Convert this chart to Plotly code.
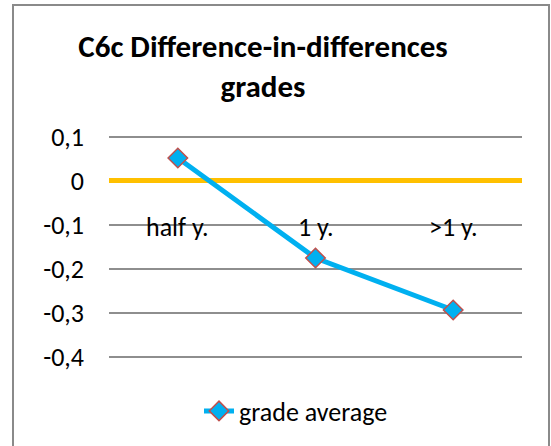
import plotly.graph_objects as go

categories = ["half y.", "1 y.", ">1 y."]
grade_average = [0.052, -0.175, -0.293]
y_tick_values = [-0.4, -0.3, -0.2, -0.1, 0, 0.1]
y_tick_labels = ["-0,4", "-0,3", "-0,2", "-0,1", "0", "0,1"]
series_name = "grade average"
title_text = "<b>C6c Difference-in-differences<br>grades</b>"

FONT = "Carlito, Lato, sans-serif"
W, H = 551, 446
L, R, T, B = 109, 29, 128, 80
pw, ph = W - L - R, H - T - B

def px_x(p):
    return (p - L) / pw

def px_y(p):
    return (H - B - p) / ph

fig = go.Figure()
fig.add_trace(go.Scatter(
    x=categories, y=grade_average, name=series_name,
    mode="lines+markers",
    line=dict(color="#00B0F0", width=5),
    marker=dict(symbol="diamond", size=15, color="#00B0F0",
                line=dict(color="#C0504D", width=1.5)),
))

for c in categories:
    fig.add_annotation(x=c, y=-0.1, xref="x", yref="y", text=c,
                       showarrow=False, yshift=-2,
                       font=dict(family=FONT, size=26, color="#000000"))

fig.add_shape(type="rect", xref="paper", yref="paper",
              x0=px_x(13), x1=px_x(549), y0=px_y(452), y1=px_y(5),
              line=dict(color="#8a8a8a", width=2), fillcolor="rgba(0,0,0,0)",
              layer="below")

fig.update_layout(
    width=W, height=H,
    margin=dict(l=L, r=R, t=T, b=B),
    paper_bgcolor="white", plot_bgcolor="white",
    title=dict(text=title_text, x=263 / W, xanchor="center", xref="container",
               y=1 - 57 / H, yanchor="middle",
               font=dict(family=FONT, size=31, color="#000000")),
    showlegend=True,
    legend=dict(orientation="h", x=px_x(296), xanchor="center", xref="paper",
                y=px_y(411), yanchor="middle",
                font=dict(family=FONT, size=26, color="#000000"),
                bgcolor="rgba(0,0,0,0)"),
    xaxis=dict(type="category", range=[-0.5, 2.5], showticklabels=False,
               showgrid=False, zeroline=False, showline=False, ticks=""),
    yaxis=dict(range=[-0.42, 0.12], tickvals=y_tick_values,
               ticktext=y_tick_labels, showgrid=True, gridcolor="#8e8e8e",
               gridwidth=1.5, zeroline=True, zerolinecolor="#FFC000",
               zerolinewidth=5, showline=False, ticks="", ticklen=0,
               ticklabelstandoff=24,
               tickfont=dict(family=FONT, size=26, color="#000000")),
)

fig.write_html("out.html", config={"displayModeBar": False},
               post_script="document.body.style.margin='0';")
